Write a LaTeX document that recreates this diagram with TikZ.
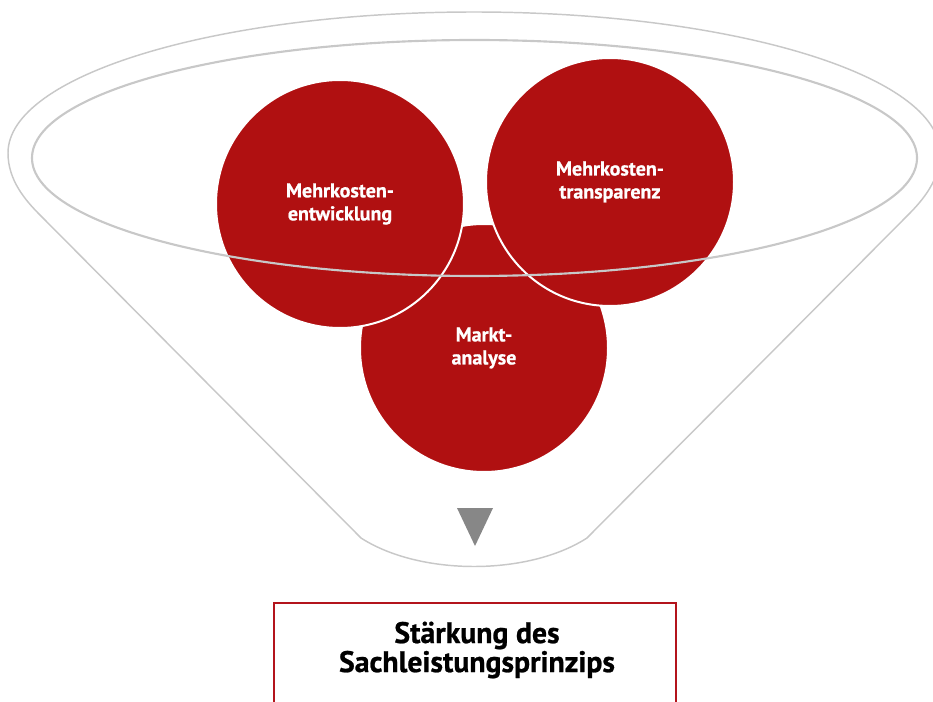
\documentclass[tikz,border=0pt]{standalone}
\usepackage{fontspec}
\setmainfont{PT Sans}[BoldFeatures={FakeBold=0.8}]
\definecolor{ballred}{HTML}{B01011}
\definecolor{boxred}{HTML}{B3141C}
\definecolor{funnelgray}{HTML}{C8C8C8}
\definecolor{arrowgray}{HTML}{878787}
\begin{document}
\begin{tikzpicture}[x=0.75pt,y=0.75pt,
  funnel/.style={draw=funnelgray, line width=1.1pt},
  rim/.style={draw=funnelgray, line width=1.6pt},
  ball/.style={circle, fill=ballred, draw=white, line width=1.5pt, minimum size=186pt,
    inner sep=0pt, text=white, align=center, font=\bfseries\fontsize{15}{17.25}\selectfont},
  goalbox/.style={draw=boxred, line width=1.5pt, minimum width=301.5pt, minimum height=100pt, inner sep=0pt},
  goaltext/.style={align=center, text=black, font=\bfseries\fontsize{22.3}{21.75}\selectfont}]
\clip (0,0) rectangle (933,701);
% funnel outline
\draw[funnel] (361,163) -- (40,486) .. controls (25,501) and (8,521) .. (8,548)
  arc[start angle=180, end angle=0, x radius=466, y radius=141]
  .. controls (940,521) and (923,501) .. (908,486) -- (587,163)
  .. controls (528,125) and (420,125) .. cycle;
% balls
\node[ball] (markt) at (484,353) {Markt-\\analyse};
\node[ball] (entw) at (340,497) {Mehrkosten-\\entwicklung};
\node[ball] (transp) at (610,519) {Mehrkosten-\\transparenz};
% rim
\draw[rim] (474.5,543) ellipse [x radius=442.5, y radius=118];
% arrow
\fill[arrowgray] (457,193) -- (493,193) -- (475,155) -- cycle;
% goal
\node[goalbox, anchor=north] (goal) at (475,99) {};
\node[goaltext] (goaltxt) at (477,51) {Stärkung des\\Sachleistungsprinzips};
\end{tikzpicture}
\end{document}
